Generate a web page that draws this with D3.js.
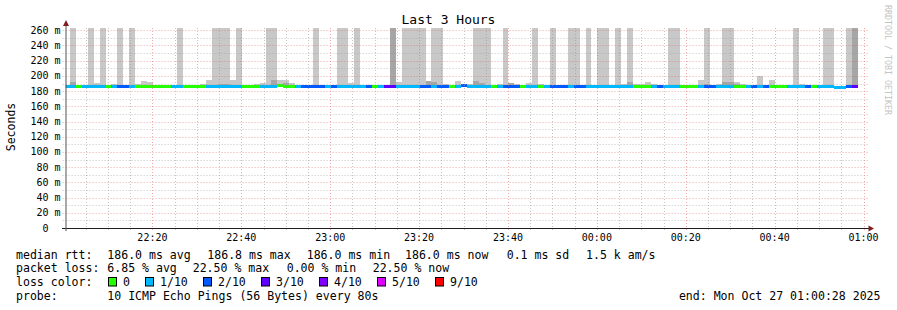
<!DOCTYPE html>
<html><head><meta charset="utf-8">
<script src="https://cdn.jsdelivr.net/npm/d3@7"></script>
<style>
html,body{margin:0;padding:0;background:#fff;}
svg{display:block;}
text{font-family:"DejaVu Sans Mono",monospace;fill:#000;}
</style></head><body>
<svg id="chart" width="897" height="310"></svg>
<script>
// ---------------- data ----------------
const title = "Last 3 Hours";
const yAxisTitle = "Seconds";
const watermark = "RRDTOOL / TOBI OETIKER";
const yMajorTicks = [0,20,40,60,80,100,120,140,160,180,200,220,240,260];
const yMinorTicks = [10,30,50,70,90,110,130,150,170,190,210,230,250];
const yUnit = "m";
const yMax = 263;
const timeStart = new Date(2025,9,26,22,0,28);
const timeEnd = new Date(2025,9,27,1,0,28);
const firstStep = new Date(2025,9,26,22,0,7);
const stepSeconds = 80;

// lost pings (out of 10) per 80 s step
const loss = [
 1,1,0,1,1,1,1,0,1,2,
 2,1,0,0,0,0,0,0,1,1,
 0,0,0,0,1,1,1,1,1,1,
 0,0,0,1,1,1,0,0,0,1,
 2,2,2,2,1,2,1,1,1,1,
 1,2,0,1,3,3,1,1,1,1,
 2,2,1,2,2,0,1,2,1,1,
 1,1,0,1,2,2,2,0,1,1,
 0,1,2,2,2,1,2,2,1,1,
 1,1,1,1,1,1,0,0,0,1,
 2,1,1,1,0,0,0,1,2,2,
 1,1,1,0,0,1,2,1,2,0,
 0,0,1,1,1,2,0,1,1,1,
 1,1,2,3
];
// median rtt (ms) per step
const median = [
 186,186,186,186,186,186,186,186,186,186,
 186,186,186,186,186,186,186,186,186,186,
 186,186,186,186,186,186,186,186,186,186,
 186,186,186,186,186,186,186.8,186,186,186,
 186,186,186,186,186,186,186,186,186,186,
 186,186,186,186,186,186,186,186,186,186,
 186,186,186,186,186,186,186,186.8,186,186,
 186,186,186,186,186,186,186,186,186,186,
 186,186,186,186,186,186,186,186,186,186,
 186,186,186,186,186,186,186,186,186,186,
 186,186,186,186,186,186,186,186,186,186,
 186,186,186,186,186,186,186,186,186,186,
 186,186,186,186,186,186,186,186,186,186,
 185.4,185.4,186,186
];
// outer smoke top (ms); 300 = beyond the top of the graph
const smokeMax = [
 null,300,null,null,300,190.7,300,null,189.4,300,
 null,300,190,193.3,192,null,null,null,null,300,
 null,null,null,189,194.6,300,300,300,194.6,300,
 null,null,189,190.7,300,300,194.6,194.6,190.7,null,
 null,null,300,null,null,null,300,300,190.2,300,
 null,null,null,null,null,300,191.6,300,300,300,
 300,193.7,300,300,190,null,193.7,null,190,300,
 300,300,null,190,300,191,190,null,191,300,
 190,null,300,null,null,300,300,null,300,null,
 300,300,null,300,189,300,189,190,192,190,
 null,null,300,300,null,null,null,194.7,300,null,
 190,300,300,192,190,null,null,199.4,null,194.6,
 null,null,null,300,190,null,null,null,300,300,
 null,null,300,300
];
// inner (darker) smoke top (ms)
const smokeMid = [
 null,192,null,null,null,null,null,null,null,null,
 null,null,null,null,null,null,null,null,null,null,
 null,null,null,null,null,null,190,190,null,null,
 null,null,null,null,null,194.6,null,190.7,null,null,
 null,null,null,null,null,null,null,null,null,null,
 null,null,null,null,null,300,null,null,null,null,
 null,193.7,192,null,null,null,null,null,null,193.7,
 191,null,null,null,null,191,null,null,null,null,
 null,null,null,null,null,null,null,null,null,null,
 null,null,null,null,null,192,null,null,null,null,
 null,null,null,null,null,null,null,null,190,null,
 null,192,192,190,null,null,null,null,null,null,
 null,null,null,null,null,null,null,null,null,null,
 null,null,null,300
];

const lossLevels = [0,1,2,3,4,5,9];
const lossLabels = ["0","1/10","2/10","3/10","4/10","5/10","9/10"];
const lossColors = ["#26ff00","#00b8ff","#0059ff","#5e00ff","#7e00ff","#dd00ff","#ff0000"];

const legendRtt = ["median rtt:","186.0 ms avg","186.8 ms max","186.0 ms min","186.0 ms now","0.1 ms sd","1.5 k am/s"];
const legendLoss = ["packet loss:","6.85 % avg","22.50 % max","0.00 % min","22.50 % now"];
const legendLossTitle = "loss color:";
const legendProbe = ["probe:","10 ICMP Echo Pings (56 Bytes) every 80s"];
const legendEnd = "end: Mon Oct 27 01:00:28 2025";

// ---------------- drawing ----------------
const svg = d3.select("#chart");
const x0 = 65.6, x1 = 865.6, yTop = 28, yBot = 228;
const x = d3.scaleTime().domain([timeStart,timeEnd]).range([x0,x1]);
const y = d3.scaleLinear().domain([0,yMax]).range([yBot,yTop]);
const lossColor = n => { let c = lossColors[0]; lossLevels.forEach((l,i)=>{ if(n>=l) c = lossColors[i]; }); return c; };

const steps = loss.map((l,i)=>({
  t0:new Date(firstStep.getTime()+i*stepSeconds*1000),
  t1:new Date(firstStep.getTime()+(i+1)*stepSeconds*1000),
  loss:l, med:median[i], hi:smokeMax[i], mid:smokeMid[i]
}));

svg.append("defs").append("clipPath").attr("id","plot")
  .append("rect").attr("x",x0).attr("y",yTop).attr("width",x1-x0).attr("height",yBot-yTop);

const plot = svg.append("g").attr("clip-path","url(#plot)");
plot.selectAll("rect.smoke").data(steps.filter(d=>d.hi!=null)).join("rect")
  .attr("class","smoke").attr("shape-rendering","crispEdges")
  .attr("x",d=>x(d.t0)).attr("width",d=>x(d.t1)-x(d.t0))
  .attr("y",d=>y(Math.min(d.hi,yMax+2))).attr("height",d=>y(d.med)-y(Math.min(d.hi,yMax+2)))
  .attr("fill","#c8c8c8");
plot.selectAll("rect.smokemid").data(steps.filter(d=>d.mid!=null)).join("rect")
  .attr("class","smokemid").attr("shape-rendering","crispEdges")
  .attr("x",d=>x(d.t0)).attr("width",d=>x(d.t1)-x(d.t0))
  .attr("y",d=>y(Math.min(d.mid,yMax+2))).attr("height",d=>y(d.med)-y(Math.min(d.mid,yMax+2)))
  .attr("fill","#a6a6a6");
plot.selectAll("rect.med").data(steps).join("rect")
  .attr("class","med").attr("shape-rendering","crispEdges")
  .attr("x",d=>x(d.t0)).attr("width",d=>x(d.t1)-x(d.t0))
  .attr("y",d=>y(d.med)-1.5).attr("height",3)
  .attr("fill",d=>lossColor(d.loss));

// grid
const grid = svg.append("g");
const gridMinor = "rgba(150,150,150,0.55)", gridMajor = "rgba(225,90,90,0.5)";
const px = v => Math.round(v)+0.5;
grid.selectAll("line.hmin").data(yMinorTicks).join("line")
  .attr("x1",x0-3).attr("x2",x1+2).attr("y1",d=>px(y(d))).attr("y2",d=>px(y(d)))
  .attr("stroke",gridMinor).attr("stroke-dasharray","1,2");
grid.selectAll("line.hmaj").data(yMajorTicks.filter(d=>d>0)).join("line")
  .attr("x1",x0-3).attr("x2",x1+2).attr("y1",d=>px(y(d))).attr("y2",d=>px(y(d)))
  .attr("stroke",gridMajor).attr("stroke-dasharray","1,2");
const majorTimes = x.ticks(d3.timeMinute.every(20));
const minorTimes = x.ticks(d3.timeMinute.every(5)).filter(t=>t.getMinutes()%20!==0);
grid.selectAll("line.vmin").data(minorTimes).join("line")
  .attr("x1",d=>px(x(d))).attr("x2",d=>px(x(d))).attr("y1",yTop).attr("y2",yBot+2)
  .attr("stroke",gridMinor).attr("stroke-dasharray","1,2");
grid.selectAll("line.vmaj").data(majorTimes).join("line")
  .attr("x1",d=>px(x(d))).attr("x2",d=>px(x(d))).attr("y1",yTop).attr("y2",yBot+2)
  .attr("stroke",gridMajor).attr("stroke-dasharray","1,2");

// axes
svg.append("line").attr("x1",62).attr("x2",870).attr("y1",228.5).attr("y2",228.5).attr("stroke","#1f1f1f");
svg.append("line").attr("x1",66).attr("x2",66).attr("y1",231).attr("y2",24).attr("stroke","#555");
svg.append("path").attr("d","M66,20 L63,26 L69,26 Z").attr("fill","#801f1f");
svg.append("path").attr("d","M874,228.5 L868.5,225.5 L868.5,231.5 Z").attr("fill","#801f1f");

// y labels
const yl = svg.append("g").attr("font-size","10px");
yl.selectAll("text.num").data(yMajorTicks).join("text")
  .attr("x",48.5).attr("y",d=>y(d)+3.5).attr("text-anchor","end").text(d=>d);
yl.selectAll("text.unit").data(yMajorTicks.filter(d=>d>0)).join("text")
  .attr("x",54.5).attr("y",d=>y(d)+3.5).text(yUnit);
// x labels
const fmt = d3.timeFormat("%H:%M");
svg.append("g").attr("font-size","10px").selectAll("text").data(majorTimes).join("text")
  .attr("x",d=>x(d)).attr("y",241).attr("text-anchor","middle").text(d=>fmt(d));

// title
svg.append("text").attr("x",448.5).attr("y",23.5).attr("text-anchor","middle")
  .attr("font-size","13px").text(title);
svg.append("text").attr("transform","translate(11,127) rotate(-90)").attr("text-anchor","middle")
  .attr("dominant-baseline","central").attr("font-size","11.5px").text(yAxisTitle);
svg.append("text").attr("transform","translate(888,60) rotate(90)").attr("text-anchor","middle")
  .attr("dominant-baseline","central").attr("font-size","8.3px").style("fill","#c4c4c4").text(watermark);

// legend
const lg = svg.append("g").attr("font-size","11.55px");
const rttX = [16,107.3,207.3,306.7,405,506.7,586];
legendRtt.forEach((s,i)=>lg.append("text").attr("x",rttX[i]).attr("y",258.5).text(s));
const lossX = [16,107.3,192.7,286.7,372.7];
legendLoss.forEach((s,i)=>lg.append("text").attr("x",lossX[i]).attr("y",272.3).text(s));
lg.append("text").attr("x",16).attr("y",286).text(legendLossTitle);
const boxX = [108.5,145.5,203.5,261.5,319.5,377.5,435.5];
lossLabels.forEach((s,i)=>{
  lg.append("rect").attr("x",boxX[i]).attr("y",277.5).attr("width",8).attr("height",8.5)
    .attr("fill",lossColors[i]).attr("stroke","#000").attr("stroke-width",1);
  lg.append("text").attr("x",boxX[i]+14.5).attr("y",286).text(s);
});
lg.append("text").attr("x",16).attr("y",300).text(legendProbe[0]);
lg.append("text").attr("x",107.3).attr("y",300).text(legendProbe[1]);
lg.append("text").attr("x",880.5).attr("y",300).attr("text-anchor","end").text(legendEnd);
</script>
</body></html>
